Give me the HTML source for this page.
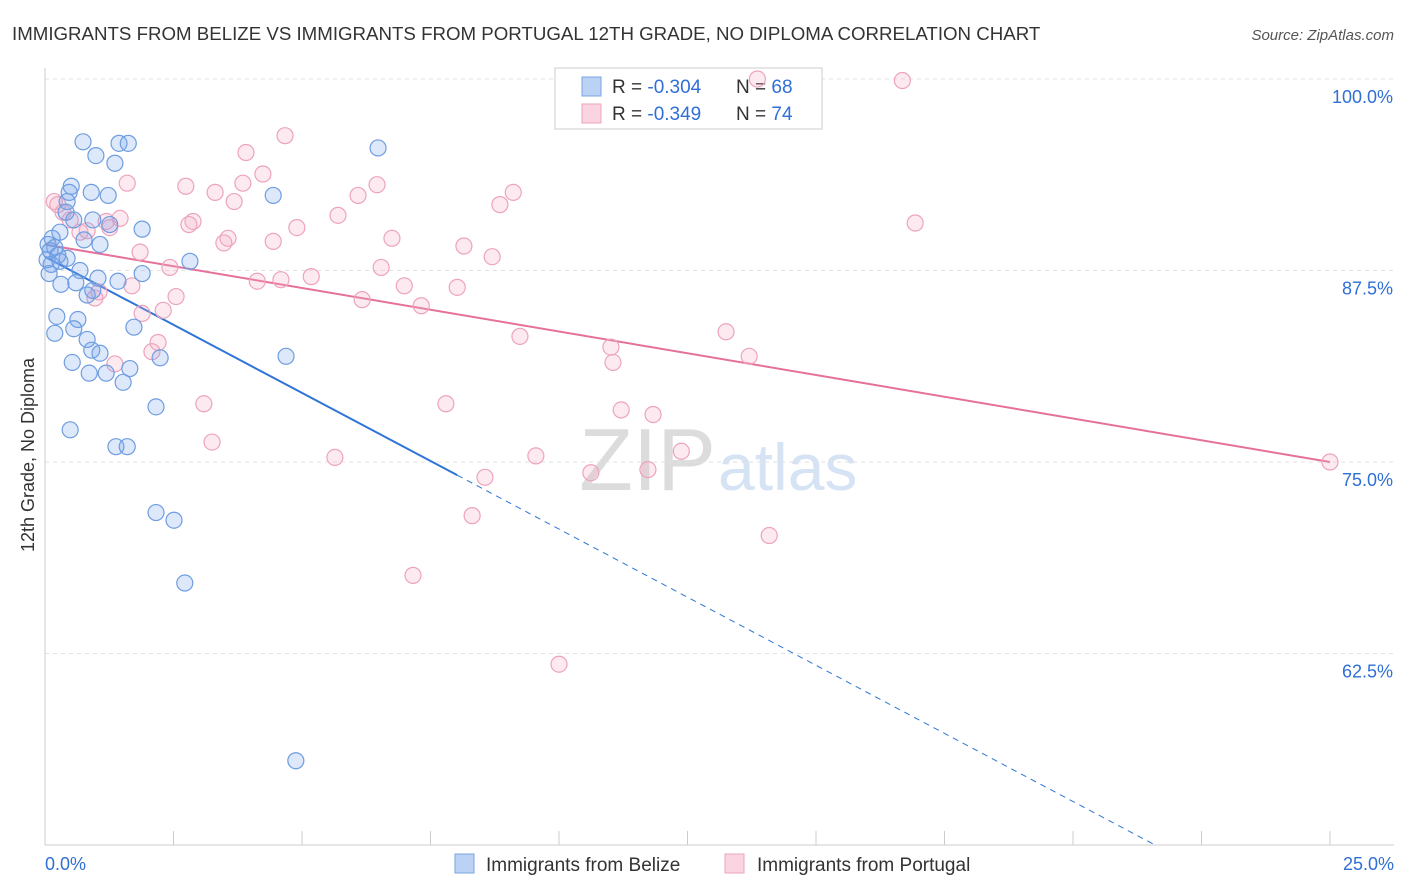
<!DOCTYPE html>
<html><head><meta charset="utf-8">
<style>
body{margin:0;background:#fff;font-family:"Liberation Sans",sans-serif;}
#wrap{position:relative;width:1406px;height:892px;overflow:hidden;}
svg text{font-family:"Liberation Sans",sans-serif;}
</style></head>
<body>
<div id="wrap">
<svg id="chart" width="1406" height="892">
<text x="12" y="40" font-size="18.7" fill="#333">IMMIGRANTS FROM BELIZE VS IMMIGRANTS FROM PORTUGAL 12TH GRADE, NO DIPLOMA CORRELATION CHART</text>
<text x="1394" y="40" font-size="15" fill="#555" text-anchor="end" font-style="italic">Source: ZipAtlas.com</text>
<text x="716" y="490" font-size="88" fill="#dcdcdc" text-anchor="end" font-family="Liberation Serif">ZIP</text>
<text x="718" y="490" font-size="66" fill="#d5e3f4">atlas</text>
<text transform="translate(34,455) rotate(-90)" font-size="18" fill="#333" text-anchor="middle">12th Grade, No Diploma</text>
<g id="grid"></g><g id="axes"></g><g id="lines"></g>
<rect x="555" y="68" width="267" height="61" fill="#fff" stroke="#ccc"/>
<rect x="582" y="77" width="19" height="19" fill="rgba(120,165,235,0.5)" stroke="#7aa4e0"/>
<rect x="582" y="104" width="19" height="19" fill="rgba(245,170,195,0.5)" stroke="#eda3bd"/>
<text x="612" y="93" font-size="19" fill="#333">R = <tspan fill="#2f6fd6">-0.304</tspan><tspan x="736">N =</tspan> <tspan fill="#2f6fd6">68</tspan></text>
<text x="612" y="120" font-size="19" fill="#333">R = <tspan fill="#2f6fd6">-0.349</tspan><tspan x="736">N =</tspan> <tspan fill="#2f6fd6">74</tspan></text>
<g id="pts"></g>
<rect x="455" y="854" width="19" height="19" fill="rgba(120,165,235,0.5)" stroke="#7aa4e0"/>
<text x="486" y="871" font-size="19" fill="#333">Immigrants from Belize</text>
<rect x="725" y="854" width="19" height="19" fill="rgba(245,170,195,0.5)" stroke="#eda3bd"/>
<text x="757" y="871" font-size="19" fill="#333">Immigrants from Portugal</text>
</svg>
</div>
<script>
const belizeX=[0.74,0.99,1.44,1.62,1.36,6.48,0.51,0.47,0.90,1.23,4.44,0.43,0.41,0.56,0.93,1.26,1.89,0.29,0.14,0.76,1.07,0.06,0.19,0.43,0.04,0.29,0.12,0.68,2.82,1.89,0.08,1.03,0.31,1.42,0.60,0.82,0.93,0.23,0.64,1.73,0.56,0.19,0.82,0.91,1.07,2.24,4.69,0.53,1.65,0.86,1.19,1.52,2.16,0.49,1.38,1.60,2.16,2.51,2.72,4.88,0.10,0.25];
const belizeY=[95.9,95.0,95.8,95.8,94.5,95.5,93.0,92.6,92.6,92.4,92.4,92.0,91.3,90.8,90.8,90.5,90.2,90.0,89.6,89.5,89.2,89.2,89.0,88.3,88.2,88.1,87.9,87.5,88.1,87.3,87.3,87.0,86.6,86.8,86.7,85.9,86.2,84.5,84.3,83.8,83.7,83.4,83.0,82.3,82.1,81.8,81.9,81.5,81.1,80.8,80.8,80.2,78.6,77.1,76.0,76.0,71.7,71.2,67.1,55.5,88.8,88.5];
const portugalX=[13.86,16.68,4.67,3.91,4.24,1.60,2.74,3.85,6.46,3.31,9.11,6.09,3.68,0.18,8.85,0.35,5.70,1.46,1.19,2.88,16.93,2.80,4.90,0.82,3.56,6.75,4.44,3.48,8.15,1.85,8.70,2.43,6.54,5.18,4.13,4.59,6.99,1.69,8.02,2.55,1.05,0.97,6.17,7.32,2.30,1.89,13.25,9.24,2.20,11.01,2.08,13.70,11.05,1.36,7.80,3.09,11.21,11.83,3.25,12.38,9.55,5.64,10.62,11.73,8.56,25.0,8.31,14.09,7.16,10.00,0.25,0.68,1.26,0.49];
const portugalY=[100.0,99.9,96.3,95.2,93.8,93.2,93.0,93.2,93.1,92.6,92.6,92.4,92.0,92.0,91.8,91.3,91.1,90.9,90.7,90.7,90.6,90.5,90.3,90.1,89.6,89.6,89.4,89.3,89.1,88.7,88.4,87.7,87.7,87.1,86.8,86.9,86.5,86.5,86.4,85.8,86.1,85.7,85.6,85.2,84.9,84.7,83.5,83.2,82.8,82.5,82.2,81.9,81.5,81.4,78.8,78.8,78.4,78.1,76.3,75.7,75.4,75.3,74.3,74.5,74.0,75.0,71.5,70.2,67.6,61.8,91.8,90.0,90.3,90.8];
const yTicks=[100,87.5,75,62.5];
const yTickLabels=["100.0%","87.5%","75.0%","62.5%"];
const xTickLabels=["0.0%","25.0%"];
const belizeTrend=[88.4,-1.778,8.02,21.6];
const portugalTrend=[89.2,75.0];

const X=v=>45+v/25*1285;
const Y=v=>79+(100-v)/12.5*191.5;
const NS="http://www.w3.org/2000/svg";
function mk(tag,attrs,parent){const e=document.createElementNS(NS,tag);for(const k in attrs)e.setAttribute(k,attrs[k]);document.getElementById(parent).appendChild(e);return e;}

yTicks.forEach((t,i)=>{
  const g=mk('line',{x1:45,x2:1394,y1:Y(t),y2:Y(t),stroke:'#e2e2e2','stroke-dasharray':'4,4'},'grid');
  
  
  const l=mk('text',{x:1393,y:Y(t)+24,'font-size':18,fill:'#2f6fd6','text-anchor':'end'},'axes');
  l.textContent=yTickLabels[i];
  
  
});
const ax=mk('line',{x1:45,x2:45,y1:68,y2:845,stroke:'#ccc'},'axes');


const bx=mk('line',{x1:45,x2:1394,y1:845,y2:845,stroke:'#ccc'},'axes');


for(let i=0;i<=10;i++){
  const t=mk('line',{x1:X(i*2.5),x2:X(i*2.5),y1:831,y2:845,stroke:'#ccc'},'axes');
  
  
}
[[0,'start',45],[25,'end',1394]].forEach((d,i)=>{
  const l=mk('text',{x:d[2],y:870,'font-size':18,fill:'#2f6fd6','text-anchor':d[1]},'axes');
  l.textContent=xTickLabels[i];
  
  
});

function drawPts(xs,ys,fill,stroke,name){
  xs.forEach((x,i)=>{
    const c=mk('circle',{cx:X(x),cy:Y(ys[i]),r:8,fill:fill,stroke:stroke,'stroke-width':1.2},'pts');
    
    
  });
}
drawPts(portugalX,portugalY,'rgba(245,170,195,0.25)','#eda3bd','portugal-point');
drawPts(belizeX,belizeY,'rgba(120,165,235,0.25)','#6e9de0','belize-point');

const b0=belizeTrend[0],bs=belizeTrend[1],bEnd=belizeTrend[2],bDash=belizeTrend[3];
const bl=mk('line',{x1:X(0),y1:Y(b0),x2:X(bEnd),y2:Y(b0+bs*bEnd),stroke:'#2f74d8','stroke-width':2},'lines');


const bd=mk('line',{x1:X(bEnd),y1:Y(b0+bs*bEnd),x2:X(bDash),y2:Y(b0+bs*bDash),stroke:'#2f74d8','stroke-width':1,'stroke-dasharray':'6,5'},'lines');


const pl=mk('line',{x1:X(0),y1:Y(portugalTrend[0]),x2:X(25),y2:Y(portugalTrend[1]),stroke:'#e5709a','stroke-width':2},'lines');


</script>
</body></html>
